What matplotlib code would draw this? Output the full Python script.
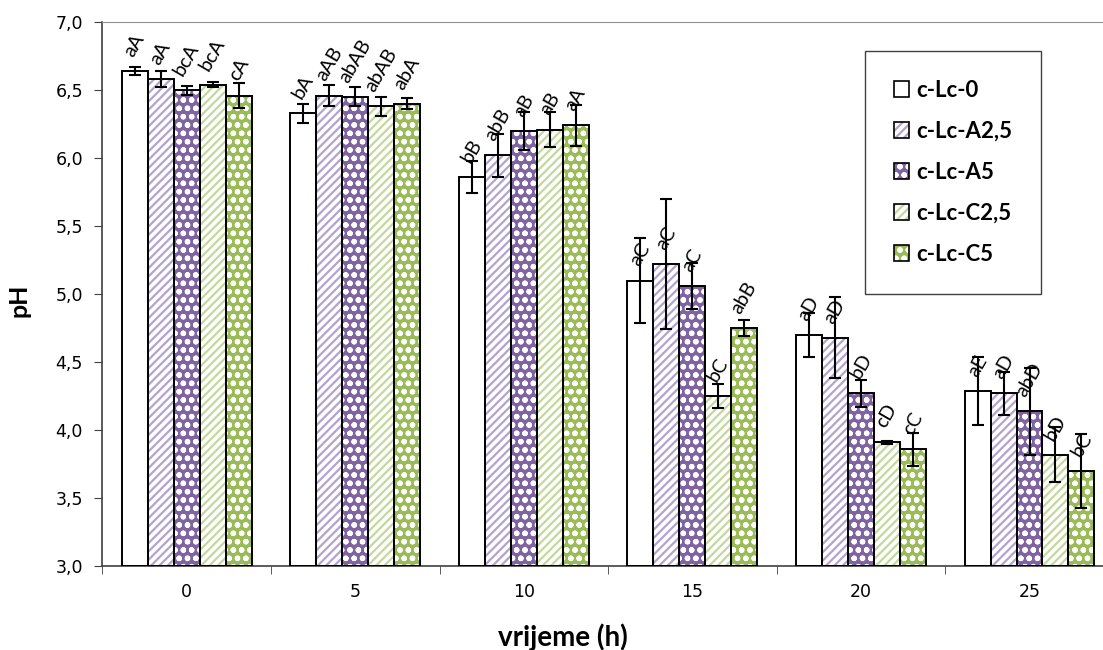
import numpy as np
import matplotlib
matplotlib.use('Agg')
import matplotlib.pyplot as plt
import matplotlib.patches as mpatches
from matplotlib.legend_handler import HandlerTuple

# data
times = ['0', '5', '10', '15', '20', '25']
series = ['c-Lc-0', 'c-Lc-A2,5', 'c-Lc-A5', 'c-Lc-C2,5', 'c-Lc-C5']

ph_lc0 = [6.64, 6.33, 5.86, 5.10, 4.70, 4.29]
ph_a25 = [6.58, 6.46, 6.02, 5.22, 4.68, 4.27]
ph_a5 = [6.50, 6.45, 6.20, 5.06, 4.27, 4.14]
ph_c25 = [6.54, 6.38, 6.21, 4.25, 3.91, 3.82]
ph_c5 = [6.46, 6.40, 6.24, 4.75, 3.86, 3.70]

err_lc0 = [0.03, 0.07, 0.12, 0.31, 0.16, 0.25]
err_a25 = [0.06, 0.08, 0.16, 0.48, 0.30, 0.16]
err_a5 = [0.033, 0.07, 0.14, 0.17, 0.10, 0.32]
err_c25 = [0.017, 0.07, 0.13, 0.09, 0.01, 0.20]
err_c5 = [0.09, 0.04, 0.15, 0.06, 0.12, 0.27]

lab_lc0 = ['aA', 'bA', 'bB', 'aC', 'aD', 'aE']
lab_a25 = ['aA', 'aAB', 'abB', 'aC', 'aD', 'aD']
lab_a5 = ['bcA', 'abAB', 'aB', 'aC', 'bD', 'abD']
lab_c25 = ['bcA', 'abAB', 'aB', 'bC', 'cD', 'bD']
lab_c5 = ['cA', 'abA', 'aA', 'abB', 'cC', 'bC']

y_ticks = [3.0, 3.5, 4.0, 4.5, 5.0, 5.5, 6.0, 6.5, 7.0]
y_tick_labels = ['3,0', '3,5', '4,0', '4,5', '5,0', '5,5', '6,0', '6,5', '7,0']

values = [ph_lc0, ph_a25, ph_a5, ph_c25, ph_c5]
errors = [err_lc0, err_a25, err_a5, err_c25, err_c5]
labels = [lab_lc0, lab_a25, lab_a5, lab_c25, lab_c5]

# (face, hatch colour, hatch)
styles = [
    ('white', 'white', None),
    ('white', '#b4a3cf', '////'),
    ('#8064a2', 'white', 'oo'),
    ('white', '#c4d89e', '////'),
    ('#9bbb59', 'white', 'oo'),
]

plt.rcParams['hatch.linewidth'] = 1.6
plt.rcParams['font.family'] = ['DejaVu Sans']

fig = plt.figure(figsize=(11.03, 6.5), dpi=100)
ax = fig.add_axes([0.0928, 0.129, 0.9072, 0.837])

x = np.arange(len(times))
w = 0.154
handles = []
for i in range(len(series)):
    pos = x + (i - 2) * w
    face, hc, hatch = styles[i]
    ax.bar(pos, np.array(values[i]) - 3.0, w, bottom=3.0, color=face,
           edgecolor=hc, hatch=hatch, linewidth=0, zorder=2)
    ax.bar(pos, np.array(values[i]) - 3.0, w, bottom=3.0, fill=False,
           edgecolor='black', linewidth=1.4, zorder=3)
    ax.errorbar(pos, values[i], yerr=errors[i], fmt='none', ecolor='black',
                elinewidth=1.5, capsize=4.5, capthick=1.5, zorder=4)
    for xp, v, t in zip(pos, values[i], labels[i]):
        ax.text(xp, v + 0.085, t, rotation=60, ha='center', va='bottom',
                fontsize=14, family='Lato', zorder=5)
    p1 = mpatches.Patch(facecolor=face, edgecolor=hc, hatch=hatch, linewidth=0)
    p2 = mpatches.Patch(fill=False, edgecolor='black', linewidth=1.2)
    handles.append((p1, p2))

ax.set_ylim(3.0, 7.0)
ax.set_xlim(-0.5, 5.436)
ax.set_yticks(y_ticks)
ax.set_yticklabels(y_tick_labels, fontsize=12.5)
ax.set_xticks(x)
ax.set_xticklabels(times, fontsize=12.5)
ax.set_xticks(np.arange(-0.5, 5.5, 1.0), minor=True)
ax.tick_params(axis='x', which='major', length=0, pad=12)
ax.tick_params(axis='x', which='minor', length=6, direction='out', color='#404040')
ax.tick_params(axis='y', length=6, direction='out', color='#404040', pad=8)

for s in ['left', 'bottom']:
    ax.spines[s].set_color('#404040')
    ax.spines[s].set_linewidth(1.2)
ax.spines['top'].set_color('#909090')
ax.spines['right'].set_visible(False)

ax.set_ylabel('pH', fontsize=18, fontweight='bold', family='Lato')
ax.set_xlabel('vrijeme (h)', fontsize=20, fontweight='bold', family='Lato')
ax.xaxis.set_label_coords(0.46, -0.105)
ax.yaxis.set_label_coords(-0.072, 0.488)

leg = ax.legend(handles, series, handler_map={tuple: HandlerTuple(ndivide=1)},
                loc='upper left', bbox_to_anchor=(0.762, 0.947), borderaxespad=0,
                prop={'family': 'Lato', 'weight': 'bold', 'size': 16},
                handlelength=0.7, handleheight=0.7, handletextpad=0.3,
                labelspacing=0.9, borderpad=1.3, fancybox=False,
                edgecolor='#404040', framealpha=1)
leg.get_frame().set_linewidth(1.0)

fig.savefig('out.png', dpi=100)
